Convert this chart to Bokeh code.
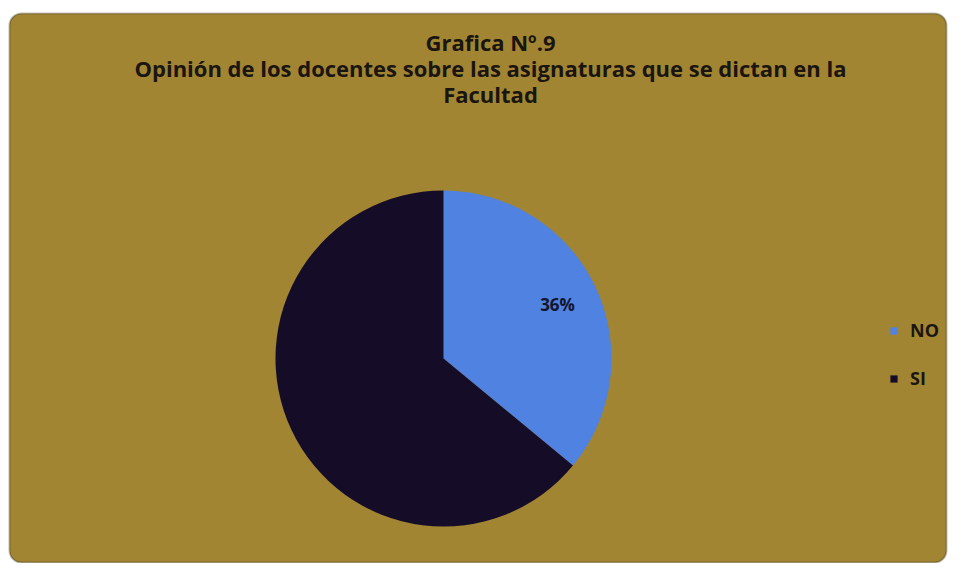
import math
from bokeh.plotting import figure
from bokeh.models import BoxAnnotation, Label, Legend, LegendItem, ColumnDataSource
from bokeh.embed import file_html
from bokeh.resources import INLINE

categories = ["NO", "SI"]
values = [36, 64]
colors = ["#5082e1", "#150c28"]
title_lines = ["Grafica Nº.9",
               "Opinión de los docentes sobre las asignaturas que se dictan en la",
               "Facultad"]

W, H = 948, 563
p = figure(width=W, height=H, x_range=(0, W), y_range=(0, H),
           output_backend="svg", toolbar_location=None, min_border=0,
           border_fill_color="white", background_fill_color="white")
p.axis.visible = False
p.grid.visible = False
p.outline_line_color = None

bg = BoxAnnotation(left=9, right=946, bottom=1, top=550,
                   fill_color="#a18532", fill_alpha=1.0,
                   line_color="#2a2112", line_width=2, border_radius=12,
                   level="underlay")
p.add_layout(bg)

total = sum(values)
cx, cy, r = 443, 205, 168
starts, ends, mids = [], [], []
a = math.pi / 2
for v in values:
    s = a
    e = a - v / total * 2 * math.pi
    starts.append(e)
    ends.append(s)
    mids.append((s + e) / 2)
    a = e

src = ColumnDataSource(dict(cat=categories, val=values, start=starts, end=ends,
                            color=colors, x=[cx] * 2, y=[cy] * 2))
w = p.wedge(x="x", y="y", radius=r, start_angle="start", end_angle="end",
            fill_color="color", line_color=None, source=src)

# percentage label for NO
m = mids[0]
p.add_layout(Label(x=cx + 0.75 * r * math.cos(m), y=cy + 0.75 * r * math.sin(m),
                   text=f"{values[0]}%", text_align="center", text_baseline="middle",
                   text_font="Open Sans", text_font_style="bold", text_font_size="17px",
                   text_color="#14142a"))

ys = [522, 496, 470]
for t, yy in zip(title_lines, ys):
    p.add_layout(Label(x=490, y=yy, text=t, text_align="center", text_baseline="middle",
                       text_font="Open Sans", text_font_style="bold", text_font_size="22px",
                       text_color="#1a1510"))

items = [LegendItem(label=c, renderers=[w], index=i) for i, c in enumerate(categories)]
leg = Legend(items=items, location=(889, 173), background_fill_alpha=0,
             border_line_color=None, padding=0, margin=0, spacing=24,
             glyph_width=9, glyph_height=9, label_height=20, label_standoff=12,
             label_text_font="Open Sans", label_text_font_style="bold",
             label_text_font_size="18px", label_text_color="#1a1510")
p.add_layout(leg, "center")

open("out.html", "w").write(file_html(p, INLINE))
